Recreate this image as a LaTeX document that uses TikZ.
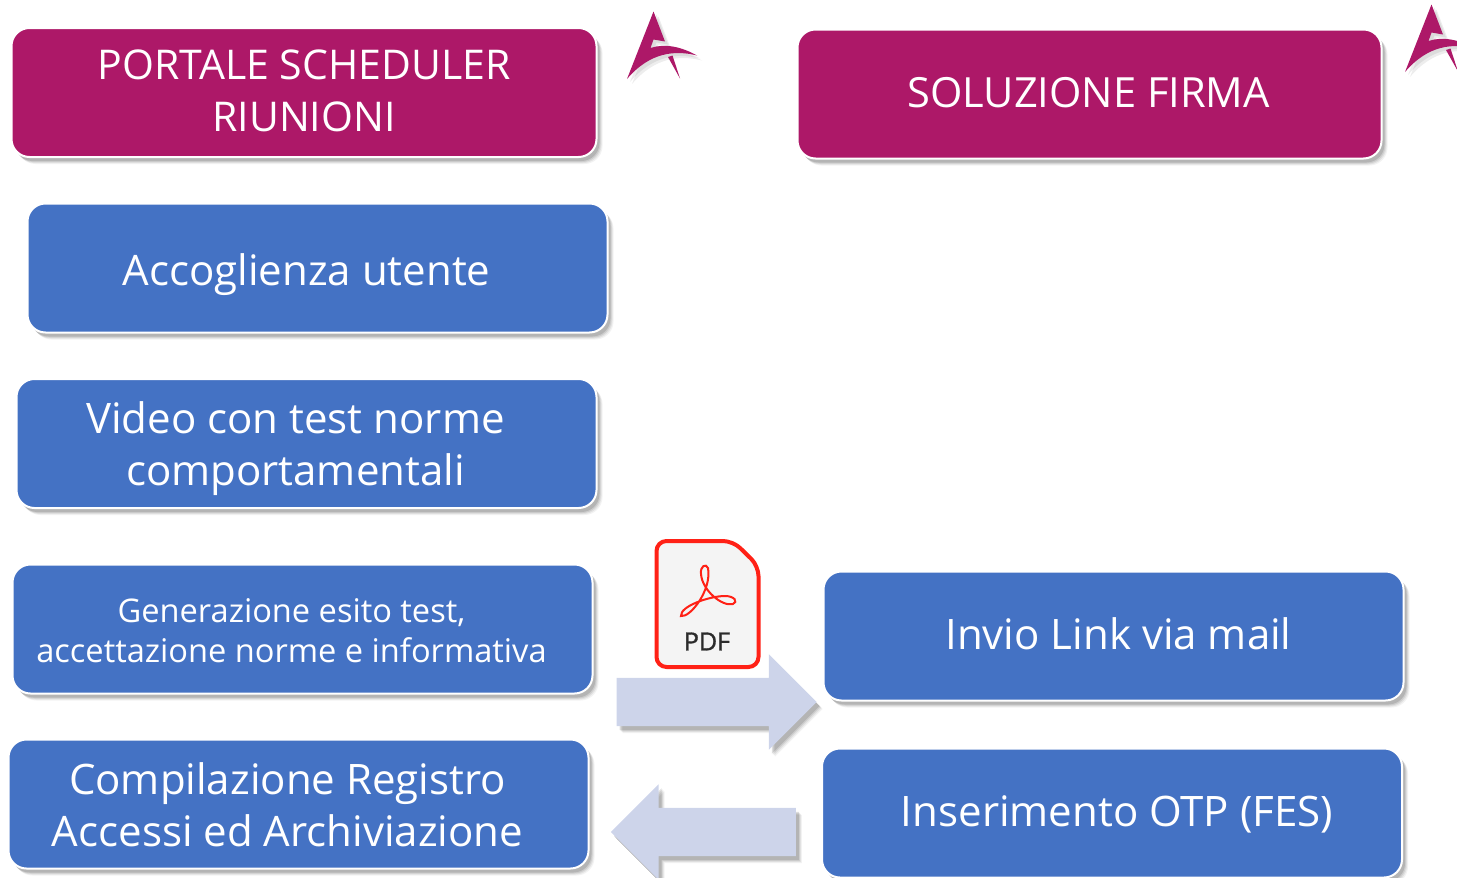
\documentclass[tikz,border=0pt]{standalone}
\usepackage{fontspec}
\setmainfont{Open Sans}
\usetikzlibrary{shadows}
\usetikzlibrary{shapes.arrows}
\definecolor{mblue}{HTML}{4472C4}
\definecolor{mmagenta}{HTML}{AD1868}
\definecolor{marrow}{HTML}{CDD4EA}
\definecolor{mred}{HTML}{FF2116}
\definecolor{mpage}{HTML}{F4F4F4}
\definecolor{mdark}{HTML}{2B2B2B}
\tikzset{softshadow/.style = {drop shadow = {shadow xshift = 6, shadow yshift = 7, fill = black, opacity = 0.05},
                              drop shadow = {shadow xshift = 5, shadow yshift = 6, fill = black, opacity = 0.07},
                              drop shadow = {shadow xshift = 4, shadow yshift = 5, fill = black, opacity = 0.09},
                              drop shadow = {shadow xshift = 3, shadow yshift = 4, fill = black, opacity = 0.12}}}
\tikzset{box/.style = {draw = white, line width = 2, rounded corners = 18, softshadow,
                       minimum width = 580, minimum height = 129, inner sep = 0, outer sep = 0}}
\tikzset{bluebox/.style = {box, fill = mblue}}
\tikzset{titlebox/.style = {box, fill = mmagenta}}
\tikzset{boxtext/.style = {text = white, align = center, inner sep = 0, font = \fontsize{42}{52}\selectfont}}
\tikzset{blockarrow/.style = {single arrow, fill = marrow, inner xsep = 0, inner ysep = 24, outer sep = 0,
                              single arrow head extend = 23.5, single arrow head indent = 0, softshadow}}
\begin{document}
\begin{tikzpicture}[x = 1pt, y = -1pt]
      \useasboundingbox (0, 0) rectangle (1457, 878);

      \node [titlebox, minimum width = 585] (portale) at (304, 92.5) {};
      \node [titlebox, minimum width = 584] (firma) at (1089.5, 94) {};
      \node [boxtext, font = \fontsize{41}{52}\selectfont] (portaletext) at (304, 90.5) {PORTALE SCHEDULER\\RIUNIONI};
      \node [boxtext, font = \fontsize{41.6}{52}\selectfont] (firmatext) at (1088.5, 92.5) {SOLUZIONE FIRMA};

      \node [bluebox] (accoglienza) at (317.5, 268) {};
      \node [bluebox] (video) at (306.5, 443.5) {};
      \node [bluebox] (esito) at (302.5, 629) {};
      \node [bluebox] (registro) at (298.5, 804) {};
      \node [bluebox] (invio) at (1113.5, 636) {};
      \node [bluebox] (otp) at (1112, 813) {};

      \node [boxtext] (accoglienzatext) at (306.5, 275) {Accoglienza utente};
      \node [boxtext] (videotext) at (295.5, 449) {Video con test norme\\comportamentali};
      \node [boxtext, font = \fontsize{32.6}{40}\selectfont] (esitotext) at (291.5, 631) {Generazione esito test,\\accettazione norme e informativa};
      \node [boxtext] (registrotext) at (287.5, 805) {Compilazione Registro\\Accessi ed Archiviazione};
      \node [boxtext] (inviotext) at (1118.5, 634) {Invio Link via mail};
      \node [boxtext] (otptext) at (1117, 814) {Inserimento OTP (FES)};

      \node [blockarrow, minimum height = 200] (versofirma) at (704.5, 702) {};
      \node [blockarrow, minimum height = 185, shape border rotate = 180] (versoportale) at (715.5, 832) {};

      % logo
      \foreach \x/\y in {0/0, 778/-7} {
        \begin{scope}[shift = {(\x, \y)}]
          \fill [mmagenta, drop shadow = {shadow xshift = 5, shadow yshift = 5, fill = black, opacity = 0.07},
                 drop shadow = {shadow xshift = 3, shadow yshift = 3, fill = black, opacity = 0.07}]
            (653.5, 11.5) -- (665, 41.5) -- (653.5, 39.5) -- (650.5, 48)
            .. controls (665, 43) and (682, 47) .. (697, 55.5)
            .. controls (675, 50) and (650, 52) .. (627, 79) -- cycle;
          \fill [mmagenta] (668, 57) -- (680, 78.5) -- (672.5, 55.5) -- cycle;
        \end{scope}
      }

      % pdf
      \draw [mred, fill = mpage, line width = 4, rounded corners = 10]
        (656.5, 541) -- (733, 541) -- (758.5, 566) -- (758.5, 667) -- (656.5, 667) -- cycle;
      \draw [mred, line width = 2]
        (681, 616) .. controls (690, 618) and (712, 590) .. (708, 568)
        .. controls (706, 563) and (700, 566) .. (701, 574)
        .. controls (702, 590) and (722, 607) .. (733, 604)
        .. controls (738, 602) and (735, 596) .. (725, 596)
        .. controls (710, 596) and (680, 606) .. (681, 616) -- cycle;
      \node [text = mdark, font = \fontsize{25}{30}\selectfont\addfontfeature{FakeBold=1.2}] (pdf) at (707, 641.5) {PDF};
    \end{tikzpicture}
\end{document}
